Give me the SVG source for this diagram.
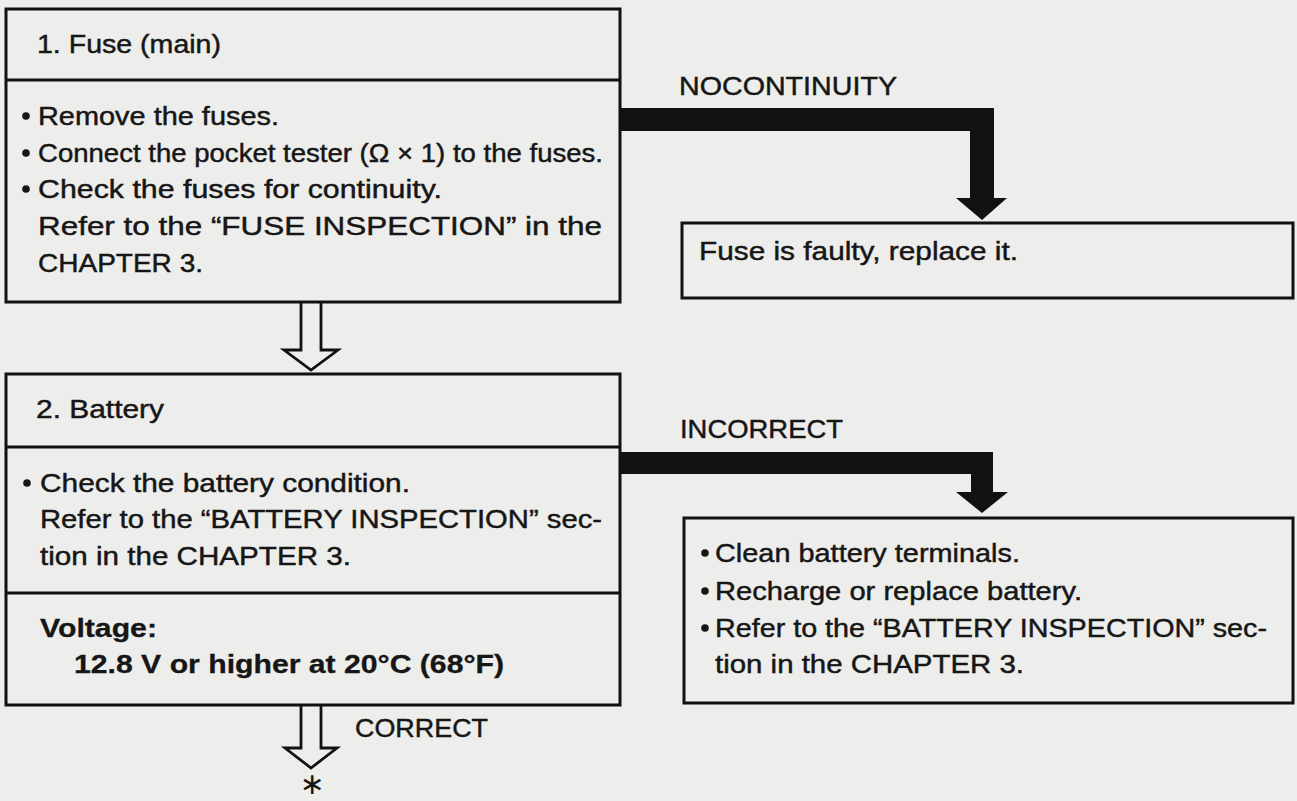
<svg xmlns="http://www.w3.org/2000/svg" width="1297" height="801" viewBox="0 0 1297 801">
<defs>
<style>
.bg{fill:#ededeb}
.box{fill:none;stroke:#111;stroke-width:3}
.div{stroke:#111;stroke-width:3}
.t{font-family:"Liberation Sans",Arial,sans-serif;font-size:26px;fill:#161616;stroke:#161616;stroke-width:0.45}
.b{font-weight:bold;stroke-width:0.3}
.dot{fill:#161616}
.thick{fill:#111}
.hollow{fill:none;stroke:#111;stroke-width:2.8;stroke-linejoin:miter}
</style>
</defs>
<rect class="bg" x="0" y="0" width="1297" height="801"/>

<g id="node-fuse">
<rect class="box" x="6" y="9" width="614" height="293"/>
<line class="div" x1="6" y1="80" x2="620" y2="80"/>
<text class="t" x="37" y="53" textLength="184" lengthAdjust="spacingAndGlyphs">1. Fuse (main)</text>
<circle class="dot" cx="26" cy="116" r="3.8"/>
<text class="t" x="38" y="125" textLength="241" lengthAdjust="spacingAndGlyphs">Remove the fuses.</text>
<circle class="dot" cx="26" cy="153" r="3.8"/>
<text class="t" x="38" y="162" textLength="565" lengthAdjust="spacingAndGlyphs">Connect the pocket tester (Ω × 1) to the fuses.</text>
<circle class="dot" cx="26" cy="189" r="3.8"/>
<text class="t" x="38" y="198" textLength="404" lengthAdjust="spacingAndGlyphs">Check the fuses for continuity.</text>
<text class="t" x="38" y="235" textLength="564" lengthAdjust="spacingAndGlyphs">Refer to the “FUSE INSPECTION” in the</text>
<text class="t" x="38" y="272" textLength="165" lengthAdjust="spacingAndGlyphs">CHAPTER 3.</text>
</g>

<g id="node-fuse-faulty">
<rect class="box" x="682" y="223" width="611" height="75"/>
<text class="t" x="699" y="260" textLength="319" lengthAdjust="spacingAndGlyphs">Fuse is faulty, replace it.</text>
</g>

<g id="node-battery">
<rect class="box" x="6" y="374" width="614" height="331"/>
<line class="div" x1="6" y1="447" x2="620" y2="447"/>
<line class="div" x1="6" y1="593" x2="620" y2="593"/>
<text class="t" x="36" y="418" textLength="128" lengthAdjust="spacingAndGlyphs">2. Battery</text>
<circle class="dot" cx="27" cy="483" r="3.8"/>
<text class="t" x="40" y="492" textLength="370" lengthAdjust="spacingAndGlyphs">Check the battery condition.</text>
<text class="t" x="40" y="528" textLength="562" lengthAdjust="spacingAndGlyphs">Refer to the “BATTERY INSPECTION” sec-</text>
<text class="t" x="40" y="565" textLength="311" lengthAdjust="spacingAndGlyphs">tion in the CHAPTER 3.</text>
<text class="t b" x="40" y="637" textLength="117" lengthAdjust="spacingAndGlyphs">Voltage:</text>
<text class="t b" x="74" y="673" textLength="430" lengthAdjust="spacingAndGlyphs">12.8 V or higher at 20°C (68°F)</text>
</g>

<g id="node-battery-fix">
<rect class="box" x="684" y="518" width="609" height="185"/>
<circle class="dot" cx="705" cy="553" r="3.8"/>
<text class="t" x="715" y="562" textLength="305" lengthAdjust="spacingAndGlyphs">Clean battery terminals.</text>
<circle class="dot" cx="705" cy="591" r="3.8"/>
<text class="t" x="715" y="600" textLength="367" lengthAdjust="spacingAndGlyphs">Recharge or replace battery.</text>
<circle class="dot" cx="705" cy="628" r="3.8"/>
<text class="t" x="715" y="637" textLength="552" lengthAdjust="spacingAndGlyphs">Refer to the “BATTERY INSPECTION” sec-</text>
<text class="t" x="715" y="673" textLength="309" lengthAdjust="spacingAndGlyphs">tion in the CHAPTER 3.</text>
</g>

<g id="connectors">
<path class="thick" d="M620 108 H994 V198 H1007 L982 220 L956 198 H970 V131 H620 Z"/>
<text class="t" x="679" y="95" textLength="218" lengthAdjust="spacingAndGlyphs">NOCONTINUITY</text>
<path class="thick" d="M620 452 H993 V492 H1008 L982 513 L956 492 H971 V474 H620 Z"/>
<text class="t" x="680" y="438" textLength="163" lengthAdjust="spacingAndGlyphs">INCORRECT</text>
<path class="hollow" d="M301 302 V350 H284 L311 370 L338 350 H321 V302"/>
<path class="hollow" d="M301 705 V748 H285 L311 768 L337 748 H321 V705"/>
<text class="t" x="355" y="737" textLength="133" lengthAdjust="spacingAndGlyphs">CORRECT</text>
<text x="312" y="794" text-anchor="middle" style="font-family:'DejaVu Sans',sans-serif;font-size:30px;fill:#161616">∗</text>
</g>
</svg>
